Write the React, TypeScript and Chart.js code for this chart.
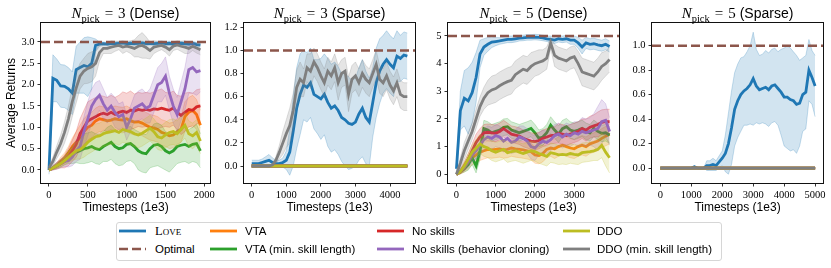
import React, { useEffect, useRef } from 'react';
import { Chart, registerables } from 'chart.js';

Chart.register(...registerables);

// ---------------- data ----------------
// Panel 1: N_pick = 3 (Dense)
const P1_X = [0,50,100,150,200,250,300,350,400,450,500,550,600,650,700,750,800,850,900,950,1000,1050,1100,1150,1200,1250,1300,1350,1400,1450,1500,1550,1600,1650,1700,1750,1800,1850,1900,1950];
const P1_LOVE = [0.0,2.15,2.1,1.97,1.96,1.9,1.8,2.35,2.4,2.45,2.42,2.5,2.92,2.95,2.96,2.95,2.97,2.96,2.97,2.98,2.96,2.97,2.96,2.97,2.98,2.96,2.97,2.96,2.97,2.98,2.96,2.97,2.95,2.96,2.97,2.96,2.95,2.97,2.94,2.93];
const P1_LOVE_SD = [0.1,0.55,0.5,0.5,0.5,0.5,0.5,0.55,0.6,0.65,0.7,0.6,0.15,0.05,0.04,0.04,0.04,0.04,0.04,0.04,0.04,0.04,0.04,0.04,0.04,0.04,0.04,0.04,0.04,0.04,0.05,0.05,0.05,0.05,0.04,0.04,0.04,0.04,0.05,0.05];
const P1_VTA = [0,0.05,0.1,0.2,0.28,0.4,0.55,0.65,0.75,0.9,1.0,1.05,1.15,1.2,1.18,1.15,1.17,1.2,1.18,1.17,1.2,1.15,1.12,1.13,1.1,1.05,1.0,0.98,0.95,0.88,0.85,0.8,0.82,0.9,0.95,1.25,1.35,1.4,1.3,1.05];
const P1_VTA_SD = [0.02,0.04,0.06,0.1,0.12,0.15,0.2,0.25,0.3,0.3,0.3,0.3,0.3,0.3,0.3,0.3,0.3,0.3,0.3,0.3,0.3,0.3,0.3,0.3,0.3,0.3,0.3,0.3,0.3,0.3,0.3,0.3,0.3,0.3,0.3,0.35,0.35,0.35,0.35,0.35];
const P1_VTAM = [0.0,0.05,0.1,0.15,0.22,0.3,0.35,0.42,0.45,0.5,0.52,0.55,0.5,0.48,0.55,0.6,0.65,0.55,0.5,0.52,0.6,0.62,0.55,0.45,0.4,0.38,0.5,0.58,0.6,0.55,0.45,0.4,0.45,0.55,0.58,0.6,0.55,0.6,0.62,0.45];
const P1_VTAM_SD = [0.02,0.04,0.06,0.08,0.1,0.15,0.2,0.25,0.3,0.35,0.35,0.35,0.35,0.35,0.35,0.4,0.4,0.4,0.4,0.4,0.4,0.4,0.4,0.45,0.45,0.45,0.45,0.5,0.5,0.5,0.45,0.45,0.4,0.4,0.4,0.4,0.4,0.4,0.45,0.4];
const P1_NS = [0,0.05,0.1,0.15,0.2,0.3,0.45,0.6,0.85,1.0,1.15,1.2,1.25,1.3,1.33,1.3,1.35,1.3,1.35,1.38,1.35,1.4,1.38,1.42,1.4,1.42,1.4,1.43,1.42,1.45,1.42,1.4,1.45,1.35,1.28,1.35,1.42,1.4,1.48,1.5];
const P1_NS_SD = [0.02,0.05,0.08,0.1,0.15,0.2,0.25,0.3,0.35,0.4,0.45,0.45,0.45,0.45,0.4,0.4,0.4,0.4,0.4,0.45,0.45,0.45,0.4,0.4,0.4,0.4,0.4,0.4,0.45,0.45,0.4,0.4,0.4,0.4,0.45,0.45,0.4,0.4,0.4,0.4];
const P1_NSBC = [0.0,0.05,0.1,0.15,0.2,0.22,0.3,0.45,0.55,0.9,1.2,1.5,1.65,1.75,1.55,1.4,1.5,1.35,1.25,1.3,1.0,1.2,1.45,1.5,1.55,1.45,1.5,1.75,2.0,2.05,2.2,1.8,1.5,1.3,1.6,1.9,2.35,2.4,2.3,2.33];
const P1_NSBC_SD = [0.02,0.05,0.08,0.1,0.12,0.15,0.2,0.25,0.3,0.35,0.4,0.4,0.4,0.35,0.35,0.3,0.3,0.35,0.3,0.3,0.3,0.3,0.3,0.35,0.35,0.35,0.4,0.4,0.4,0.45,0.45,0.4,0.4,0.4,0.45,0.5,0.55,0.6,0.55,0.5];
const P1_DDO = [0,0.05,0.1,0.15,0.22,0.3,0.38,0.45,0.48,0.55,0.65,0.72,0.78,0.8,0.85,0.88,0.9,0.92,0.88,0.95,0.92,0.9,0.85,0.82,0.86,0.92,0.98,0.9,0.78,0.75,0.82,0.88,0.9,0.85,0.95,1.05,0.85,0.8,0.88,0.68];
const P1_DDO_SD = [0.02,0.04,0.06,0.08,0.1,0.12,0.15,0.2,0.22,0.25,0.28,0.3,0.3,0.3,0.3,0.3,0.3,0.3,0.3,0.3,0.3,0.3,0.3,0.3,0.3,0.3,0.3,0.3,0.3,0.3,0.3,0.3,0.3,0.3,0.3,0.3,0.3,0.3,0.3,0.3];
const P1_DDOM = [0.05,0.2,0.42,0.62,0.88,1.2,1.6,1.92,2.2,2.32,2.38,2.42,2.5,2.75,2.85,2.85,2.88,2.9,2.92,2.88,2.9,2.88,2.85,2.9,2.92,2.87,2.8,2.88,2.9,2.92,2.88,2.82,2.9,2.93,2.9,2.88,2.85,2.9,2.86,2.82];
const P1_DDOM_SD = [0.05,0.1,0.15,0.2,0.25,0.3,0.35,0.35,0.3,0.3,0.35,0.35,0.3,0.2,0.12,0.12,0.15,0.12,0.1,0.15,0.12,0.15,0.2,0.25,0.3,0.25,0.2,0.15,0.12,0.1,0.12,0.15,0.1,0.1,0.12,0.15,0.12,0.1,0.12,0.12];
const P1_XTICKS = [0,500,1000,1500,2000];
const P1_YTICKS = [0,0.5,1,1.5,2,2.5,3];

// Panel 2: N_pick = 3 (Sparse)
const P2_X = [0,100,200,300,400,500,600,700,800,900,1000,1100,1200,1300,1400,1500,1600,1700,1800,1900,2000,2100,2200,2300,2400,2500,2600,2700,2800,2900,3000,3100,3200,3300,3400,3500,3600,3700,3800,3900,4000,4100,4200,4300,4400,4500];
const P2_LOVE = [0.02,0.02,0.02,0.03,0.04,0.05,0.03,0.02,0.02,0.03,0.05,0.12,0.3,0.5,0.62,0.7,0.68,0.72,0.62,0.6,0.58,0.62,0.55,0.5,0.52,0.48,0.42,0.4,0.37,0.36,0.38,0.45,0.5,0.42,0.38,0.55,0.72,0.82,0.88,0.92,0.88,0.85,0.95,0.93,0.96,0.95];
const P2_LOVE_SD = [0.03,0.03,0.03,0.03,0.04,0.05,0.04,0.03,0.03,0.04,0.08,0.2,0.3,0.35,0.35,0.3,0.3,0.3,0.3,0.32,0.35,0.35,0.38,0.38,0.38,0.38,0.38,0.4,0.4,0.38,0.38,0.4,0.42,0.4,0.38,0.3,0.3,0.28,0.25,0.25,0.25,0.25,0.22,0.2,0.2,0.2];
const P2_DDOM = [0,0,0,0,0,0,0.01,0.05,0.12,0.2,0.28,0.35,0.48,0.68,0.75,0.72,0.85,0.82,0.9,0.85,0.78,0.72,0.82,0.78,0.85,0.72,0.8,0.82,0.62,0.75,0.78,0.72,0.8,0.75,0.72,0.8,0.88,0.75,0.72,0.78,0.7,0.65,0.72,0.62,0.6,0.6];
const P2_DDOM_SD = [0,0,0,0,0,0,0.01,0.03,0.06,0.1,0.12,0.15,0.15,0.15,0.15,0.12,0.12,0.15,0.12,0.12,0.12,0.12,0.12,0.12,0.12,0.15,0.12,0.12,0.15,0.12,0.12,0.12,0.12,0.12,0.12,0.12,0.12,0.12,0.12,0.12,0.12,0.12,0.12,0.12,0.12,0.12];
const P2_ZERO = [0,0,0,0,0,0,0,0,0,0,0,0,0,0,0,0,0,0,0,0,0,0,0,0,0,0,0,0,0,0,0,0,0,0,0,0,0,0,0,0,0,0,0,0,0,0];
const P2_XTICKS = [0,1000,2000,3000,4000];
const P2_YTICKS = [0,0.2,0.4,0.6,0.8,1.0,1.2];

// Panel 3: N_pick = 5 (Dense)
const P3_X = [0,100,200,300,400,500,600,700,800,900,1000,1100,1200,1300,1400,1500,1600,1700,1800,1900,2000,2100,2200,2300,2400,2500,2600,2700,2800,2900,3000,3100,3200,3300,3400,3500,3600,3700,3800,3900];
const P3_LOVE = [0.2,2.3,2.75,2.65,2.95,3.5,4.35,4.6,4.7,4.78,4.8,4.82,4.85,4.88,4.88,4.9,4.92,4.93,4.95,4.95,4.96,4.95,4.93,4.9,4.88,4.85,4.9,4.88,4.9,4.85,4.85,4.75,4.6,4.75,4.7,4.72,4.68,4.65,4.7,4.62];
const P3_LOVE_SD = [0.2,0.7,1.0,1.2,1.1,0.9,0.5,0.3,0.25,0.2,0.15,0.12,0.12,0.12,0.12,0.12,0.1,0.1,0.1,0.1,0.1,0.1,0.1,0.1,0.12,0.12,0.12,0.12,0.12,0.15,0.15,0.2,0.25,0.2,0.2,0.2,0.2,0.2,0.2,0.2];
const P3_VTA = [0,0.08,0.2,0.4,0.6,0.7,0.8,0.85,0.9,0.88,0.9,0.92,0.88,0.9,0.95,0.92,0.9,0.88,0.85,0.82,0.7,0.68,0.75,0.9,0.95,0.92,1.0,1.05,1.0,0.95,0.92,1.0,1.05,1.0,1.1,1.15,1.2,1.3,1.38,1.45];
const P3_VTA_SD = [0.02,0.06,0.12,0.2,0.25,0.3,0.3,0.3,0.3,0.3,0.3,0.3,0.3,0.3,0.3,0.3,0.3,0.3,0.3,0.3,0.3,0.3,0.3,0.3,0.3,0.35,0.35,0.35,0.35,0.35,0.35,0.35,0.35,0.35,0.35,0.35,0.35,0.35,0.35,0.35];
const P3_VTAM = [0,0.1,0.2,0.35,0.6,0.3,0.85,1.65,1.6,1.5,1.55,1.6,1.7,1.72,1.6,1.55,1.5,1.55,1.6,1.66,1.5,1.3,1.35,1.5,1.78,1.6,1.45,1.65,1.72,1.6,1.55,1.6,1.66,1.55,1.5,1.66,1.55,1.48,1.5,1.42];
const P3_VTAM_SD = [0.02,0.08,0.12,0.2,0.25,0.25,0.3,0.3,0.3,0.3,0.3,0.3,0.3,0.3,0.3,0.3,0.3,0.3,0.3,0.3,0.3,0.3,0.3,0.3,0.3,0.3,0.3,0.3,0.3,0.3,0.3,0.3,0.3,0.3,0.3,0.3,0.3,0.3,0.3,0.3];
const P3_NS = [0,0.1,0.3,0.55,0.85,1.15,1.35,1.5,1.52,1.5,1.48,1.55,1.65,1.55,1.45,1.42,1.38,1.3,1.25,1.2,1.18,1.22,1.3,1.35,1.4,1.42,1.48,1.45,1.4,1.45,1.5,1.55,1.65,1.6,1.7,1.75,1.8,1.88,1.9,1.9];
const P3_NS_SD = [0.02,0.08,0.15,0.2,0.25,0.3,0.3,0.3,0.3,0.3,0.3,0.3,0.3,0.3,0.3,0.3,0.3,0.3,0.3,0.3,0.3,0.3,0.3,0.3,0.3,0.3,0.35,0.35,0.35,0.35,0.35,0.35,0.35,0.4,0.4,0.4,0.45,0.45,0.45,0.45];
const P3_NSBC = [0,0.1,0.25,0.45,0.7,0.85,1.05,1.25,1.35,1.3,1.4,1.35,1.2,1.3,1.15,1.2,1.35,1.3,1.2,1.0,0.95,1.1,1.2,1.15,1.25,1.4,1.45,1.35,1.45,1.4,1.5,1.45,1.55,1.5,1.55,1.6,1.65,1.9,1.95,1.55];
const P3_NSBC_SD = [0.02,0.08,0.12,0.2,0.25,0.3,0.35,0.4,0.4,0.4,0.4,0.4,0.4,0.4,0.4,0.4,0.4,0.45,0.45,0.45,0.45,0.4,0.4,0.4,0.4,0.4,0.4,0.4,0.4,0.4,0.4,0.45,0.5,0.5,0.5,0.6,0.8,0.8,0.6,0.5];
const P3_DDO = [0.0,0.1,0.3,0.55,0.8,0.95,1.1,1.0,0.95,0.85,0.8,0.85,0.9,0.78,0.82,0.85,0.8,0.75,0.8,0.85,0.82,0.75,0.7,0.65,0.78,0.75,0.7,0.72,0.7,0.75,0.72,0.7,0.78,0.8,0.82,0.85,0.9,1.05,0.8,0.6];
const P3_DDO_SD = [0.02,0.08,0.15,0.2,0.25,0.3,0.35,0.35,0.35,0.35,0.35,0.35,0.35,0.35,0.35,0.35,0.35,0.35,0.35,0.35,0.35,0.35,0.35,0.35,0.35,0.35,0.35,0.35,0.35,0.35,0.35,0.35,0.35,0.35,0.35,0.35,0.4,0.45,0.5,0.55];
const P3_DDOM = [0.0,0.4,0.85,1.2,1.55,2.0,2.45,2.75,2.95,3.05,3.1,3.2,3.28,3.35,3.4,3.6,3.7,3.8,3.75,3.9,4.0,4.05,4.1,4.2,4.75,4.3,4.2,4.15,4.1,4.2,4.25,4.0,3.7,3.65,3.6,3.55,3.7,3.9,4.0,4.15];
const P3_DDOM_SD = [0.05,0.2,0.3,0.3,0.3,0.35,0.35,0.4,0.45,0.5,0.5,0.5,0.5,0.5,0.5,0.5,0.5,0.5,0.5,0.5,0.45,0.45,0.4,0.4,0.2,0.4,0.4,0.4,0.4,0.4,0.4,0.45,0.5,0.5,0.5,0.5,0.5,0.5,0.45,0.45];
const P3_XTICKS = [0,1000,2000,3000];
const P3_YTICKS = [0,1,2,3,4,5];

// Panel 4: N_pick = 5 (Sparse)
const P4_X = [0,100,200,300,400,500,600,700,800,900,1000,1100,1200,1300,1400,1500,1600,1700,1800,1900,2000,2100,2200,2300,2400,2500,2600,2700,2800,2900,3000,3100,3200,3300,3400,3500,3600,3700,3800,3900,4000,4100,4200,4300,4400,4500,4600,4700,4800,4900,5000];
const P4_LOVE = [0,0,0,0,0,0,0,0,0,0,0,0.01,0,0,0,0.02,0.02,0.03,0.02,0.05,0.08,0.12,0.2,0.33,0.48,0.55,0.6,0.63,0.65,0.68,0.73,0.67,0.64,0.65,0.66,0.64,0.67,0.68,0.65,0.62,0.58,0.58,0.56,0.55,0.52,0.53,0.6,0.62,0.8,0.74,0.67];
const P4_LOVE_SD = [0,0,0,0,0,0,0,0,0,0,0,0.01,0,0,0,0.04,0.04,0.05,0.04,0.05,0.06,0.15,0.25,0.3,0.3,0.3,0.3,0.28,0.3,0.32,0.38,0.3,0.28,0.28,0.3,0.3,0.3,0.3,0.3,0.35,0.4,0.42,0.42,0.4,0.4,0.35,0.3,0.3,0.25,0.22,0.25];
const P4_ZERO = [0,0,0,0,0,0,0,0,0,0,0,0,0,0,0,0,0,0,0,0,0,0,0,0,0,0,0,0,0,0,0,0,0,0,0,0,0,0,0,0,0,0,0,0,0,0,0,0,0,0,0];
const P4_XTICKS = [0,1000,2000,3000,4000,5000];
const P4_YTICKS = [0,0.2,0.4,0.6,0.8,1.0];

const OPTIMAL = [3, 1, 5, 1];

// ---------------- styling / layout ----------------
const COLORS: Record<string, string> = {
  love: '#1f77b4', vta: '#ff7f0e', vtam: '#2ca02c', ns: '#d62728',
  nsbc: '#9467bd', ddo: '#bcbd22', ddom: '#7f7f7f', opt: '#8c564b',
};
const DRAW_ORDER = ['love', 'vta', 'vtam', 'ns', 'nsbc', 'ddo', 'ddom'];
const LEGEND_ITEMS = [
  { key: 'love', label: 'Love', sc: true },
  { key: 'opt', label: 'Optimal', dashed: true },
  { key: 'vta', label: 'VTA' },
  { key: 'vtam', label: 'VTA (min. skill length)' },
  { key: 'ns', label: 'No skills' },
  { key: 'nsbc', label: 'No skills (behavior cloning)' },
  { key: 'ddo', label: 'DDO' },
  { key: 'ddom', label: 'DDO (min. skill length)' },
];

const AXIS_W = 36;
const PAD_R = 8;
const CANVAS_H = 222;
const PLOT_TOP = 23;
const PLOT_BOTTOM = 183;

type S = Record<string, [number[], number[]]>;
type PanelCfg = {
  n: string; kind: string; x: number[]; series: S; optimal: number;
  xMin: number; xMax: number; yMin: number; yMax: number;
  xTicks: number[]; yTicks: number[]; yDigits: number;
  left: number; right: number; yLabel: boolean;
};

const PANELS: PanelCfg[] = [
  {
    n: '3', kind: 'Dense', x: P1_X, optimal: OPTIMAL[0],
    series: {
      love: [P1_LOVE, P1_LOVE_SD], vta: [P1_VTA, P1_VTA_SD], vtam: [P1_VTAM, P1_VTAM_SD],
      ns: [P1_NS, P1_NS_SD], nsbc: [P1_NSBC, P1_NSBC_SD], ddo: [P1_DDO, P1_DDO_SD], ddom: [P1_DDOM, P1_DDOM_SD],
    },
    xMin: -103, xMax: 2073, yMin: -0.305, yMax: 3.445, xTicks: P1_XTICKS, yTicks: P1_YTICKS, yDigits: 1,
    left: 41, right: 210, yLabel: true,
  },
  {
    n: '3', kind: 'Sparse', x: P2_X, optimal: OPTIMAL[1],
    series: {
      love: [P2_LOVE, P2_LOVE_SD], vta: [P2_ZERO, P2_ZERO], vtam: [P2_ZERO, P2_ZERO],
      ns: [P2_ZERO, P2_ZERO], nsbc: [P2_ZERO, P2_ZERO], ddom: [P2_DDOM, P2_DDOM_SD], ddo: [P2_ZERO, P2_ZERO],
    },
    xMin: -223, xMax: 4722, yMin: -0.147, yMax: 1.237, xTicks: P2_XTICKS, yTicks: P2_YTICKS, yDigits: 1,
    left: 244, right: 415, yLabel: false,
  },
  {
    n: '5', kind: 'Dense', x: P3_X, optimal: OPTIMAL[2],
    series: {
      love: [P3_LOVE, P3_LOVE_SD], vta: [P3_VTA, P3_VTA_SD], vtam: [P3_VTAM, P3_VTAM_SD],
      ns: [P3_NS, P3_NS_SD], nsbc: [P3_NSBC, P3_NSBC_SD], ddo: [P3_DDO, P3_DDO_SD], ddom: [P3_DDOM, P3_DDOM_SD],
    },
    xMin: -215, xMax: 4140, yMin: -0.315, yMax: 5.47, xTicks: P3_XTICKS, yTicks: P3_YTICKS, yDigits: 0,
    left: 448, right: 619, yLabel: false,
  },
  {
    n: '5', kind: 'Sparse', x: P4_X, optimal: OPTIMAL[3],
    series: {
      love: [P4_LOVE, P4_LOVE_SD], vta: [P4_ZERO, P4_ZERO], vtam: [P4_ZERO, P4_ZERO],
      ns: [P4_ZERO, P4_ZERO], nsbc: [P4_ZERO, P4_ZERO], ddo: [P4_ZERO, P4_ZERO], ddom: [P4_ZERO, P4_ZERO],
    },
    xMin: -270, xMax: 5255, yMin: -0.122, yMax: 1.185, xTicks: P4_XTICKS, yTicks: P4_YTICKS, yDigits: 1,
    left: 652, right: 823, yLabel: false,
  },
];

function rgba(hex: string, a: number) {
  const v = parseInt(hex.slice(1), 16);
  return `rgba(${(v >> 16) & 255},${(v >> 8) & 255},${v & 255},${a})`;
}

function buildDatasets(p: PanelCfg) {
  const ds: any[] = [];
  let k = 0;
  for (const key of DRAW_ORDER) {
    const s = p.series[key];
    if (!s) continue;
    const [mean, sd] = s;
    const col = COLORS[key];
    ds.push({
      data: p.x.map((x, i) => ({ x, y: mean[i] + sd[i] })),
      borderColor: rgba(col, 0.4), borderWidth: 0.6, fill: false, order: -(k++),
    });
    ds.push({
      data: p.x.map((x, i) => ({ x, y: mean[i] - sd[i] })),
      borderColor: rgba(col, 0.4), borderWidth: 0.6, fill: '-1', backgroundColor: rgba(col, 0.2), order: -(k++),
    });
    ds.push({
      data: p.x.map((x, i) => ({ x, y: mean[i] })),
      borderColor: col, borderWidth: 2.8, fill: false, order: -(k++),
    });
  }
  ds.push({
    data: [{ x: p.xMin, y: p.optimal }, { x: p.xMax, y: p.optimal }],
    borderColor: COLORS.opt, borderWidth: 2.5, borderDash: [9, 4], fill: false, order: -(k++),
  });
  return ds;
}

const SERIF = '"Liberation Serif", "DejaVu Serif", serif';
const SANS = '"Liberation Sans", "DejaVu Sans", sans-serif';

const decor = {
  id: 'decor',
  afterDatasetsDraw(chart: any) {
    const { ctx, chartArea: a } = chart;
    ctx.save();
    ctx.strokeStyle = '#111';
    ctx.lineWidth = 1;
    ctx.strokeRect(a.left - 0.5, a.top - 0.5, a.right - a.left + 1, a.bottom - a.top + 1);
    ctx.restore();
  },
  afterDraw(chart: any, _args: any, opts: any) {
    const { ctx, chartArea: a } = chart;
    ctx.save();
    ctx.fillStyle = '#000';
    // title: N_pick = n (kind)
    const parts = [
      { t: 'N', font: `italic 15px ${SERIF}`, dy: 0, gap: 0 },
      { t: 'pick', font: `10.5px ${SERIF}`, dy: 3.5, gap: 5 },
      { t: '=', font: `15px ${SERIF}`, dy: 0, gap: 5 },
      { t: opts.n, font: `15px ${SERIF}`, dy: 0, gap: 4 },
      { t: `(${opts.kind})`, font: `14px ${SANS}`, dy: 0, gap: 0 },
    ];
    let total = 0;
    const widths = parts.map((p) => {
      ctx.font = p.font;
      const w = ctx.measureText(p.t).width;
      total += w + p.gap;
      return w;
    });
    let x = (a.left + a.right) / 2 - total / 2;
    ctx.textBaseline = 'alphabetic';
    ctx.textAlign = 'left';
    parts.forEach((p, i) => {
      ctx.font = p.font;
      ctx.fillText(p.t, x, 18 + p.dy);
      x += widths[i] + p.gap;
    });
    // x label
    ctx.font = `12px ${SANS}`;
    ctx.textAlign = 'center';
    ctx.textBaseline = 'middle';
    ctx.fillText('Timesteps (1e3)', (a.left + a.right) / 2, a.bottom + 24.5);
    if (opts.yLabel) {
      ctx.translate(a.left - 29, (a.top + a.bottom) / 2);
      ctx.rotate(-Math.PI / 2);
      ctx.fillText('Average Returns', 0, 0);
    }
    ctx.restore();
  },
};

function makeConfig(p: PanelCfg): any {
  return {
    type: 'line',
    data: { datasets: buildDatasets(p) },
    plugins: [decor],
    options: {
      responsive: false,
      animation: false,
      devicePixelRatio: 1,
      layout: { padding: { top: PLOT_TOP, right: PAD_R, left: 0, bottom: 0 } },
      elements: { point: { radius: 0 }, line: { tension: 0 } },
      datasets: { line: { clip: 0 } },
      plugins: {
        legend: { display: false },
        tooltip: { enabled: false },
        decor: { n: p.n, kind: p.kind, yLabel: p.yLabel },
      },
      scales: {
        x: {
          type: 'linear', min: p.xMin, max: p.xMax,
          afterBuildTicks: (s: any) => { s.ticks = p.xTicks.map((v) => ({ value: v })); },
          afterFit: (s: any) => { s.height = CANVAS_H - PLOT_BOTTOM; },
          grid: { drawOnChartArea: false, drawTicks: true, tickLength: 3.5, color: '#000', lineWidth: 0.8 },
          border: { display: false },
          ticks: {
            font: { family: SERIF, size: 10.5 }, color: '#000', padding: 2, maxRotation: 0, autoSkip: false,
            callback: (v: number) => String(v),
          },
        },
        y: {
          type: 'linear', min: p.yMin, max: p.yMax,
          afterBuildTicks: (s: any) => { s.ticks = p.yTicks.map((v) => ({ value: v })); },
          afterFit: (s: any) => { s.width = AXIS_W; },
          grid: { drawOnChartArea: false, drawTicks: true, tickLength: 3.5, color: '#000', lineWidth: 0.8 },
          border: { display: false },
          ticks: {
            font: { family: SERIF, size: 10.5 }, color: '#000', padding: 3, autoSkip: false,
            callback: (v: number) => v.toFixed(p.yDigits),
          },
        },
      },
    },
  };
}

function Panel({ p }: { p: PanelCfg }) {
  const ref = useRef<HTMLCanvasElement>(null);
  const w = p.right - p.left + AXIS_W + PAD_R;
  useEffect(() => {
    const chart = new Chart(ref.current as HTMLCanvasElement, makeConfig(p));
    return () => chart.destroy();
  }, [p]);
  return (
    <canvas
      ref={ref}
      width={w}
      height={CANVAS_H}
      style={{ position: 'absolute', left: p.left - AXIS_W, top: 0, width: w, height: CANVAS_H }}
    />
  );
}

const LEG_COL_LINE = [119, 210, 377, 563];
const LEG_COL_TEXT = [155, 245, 412, 597];
const LEG_ROW_Y = [231, 248.5];

function Legend() {
  return (
    <>
      <div
        style={{
          position: 'absolute', left: 116, top: 222, width: 606, height: 39,
          border: '1px solid #d6d6d6', borderRadius: 3, boxSizing: 'border-box', background: '#fff',
        }}
      />
      {LEGEND_ITEMS.map((it, i) => {
        const col = Math.floor(i / 2);
        const row = i % 2;
        const y = LEG_ROW_Y[row];
        return (
          <React.Fragment key={it.key}>
            <svg
              width={27}
              height={6}
              style={{ position: 'absolute', left: LEG_COL_LINE[col], top: y - 3 }}
            >
              <line
                x1={0} y1={3} x2={27} y2={3}
                stroke={COLORS[it.key]}
                strokeWidth={it.dashed ? 2.5 : 2.8}
                strokeDasharray={it.dashed ? '9 4' : undefined}
              />
            </svg>
            <span
              style={{
                position: 'absolute', left: LEG_COL_TEXT[col], top: y - 8, height: 16, lineHeight: '16px',
                fontFamily: it.sc ? SERIF : SANS, fontSize: it.sc ? 12.5 : 11.5,
                fontVariant: it.sc ? 'small-caps' : 'normal', whiteSpace: 'nowrap', color: '#000',
              }}
            >
              {it.label}
            </span>
          </React.Fragment>
        );
      })}
    </>
  );
}

export default function App() {
  return (
    <div style={{ position: 'fixed', left: 0, top: 0, width: 831, height: 268, background: '#fff', overflow: 'hidden' }}>
      {PANELS.map((p, i) => (
        <Panel key={i} p={p} />
      ))}
      <Legend />
    </div>
  );
}
